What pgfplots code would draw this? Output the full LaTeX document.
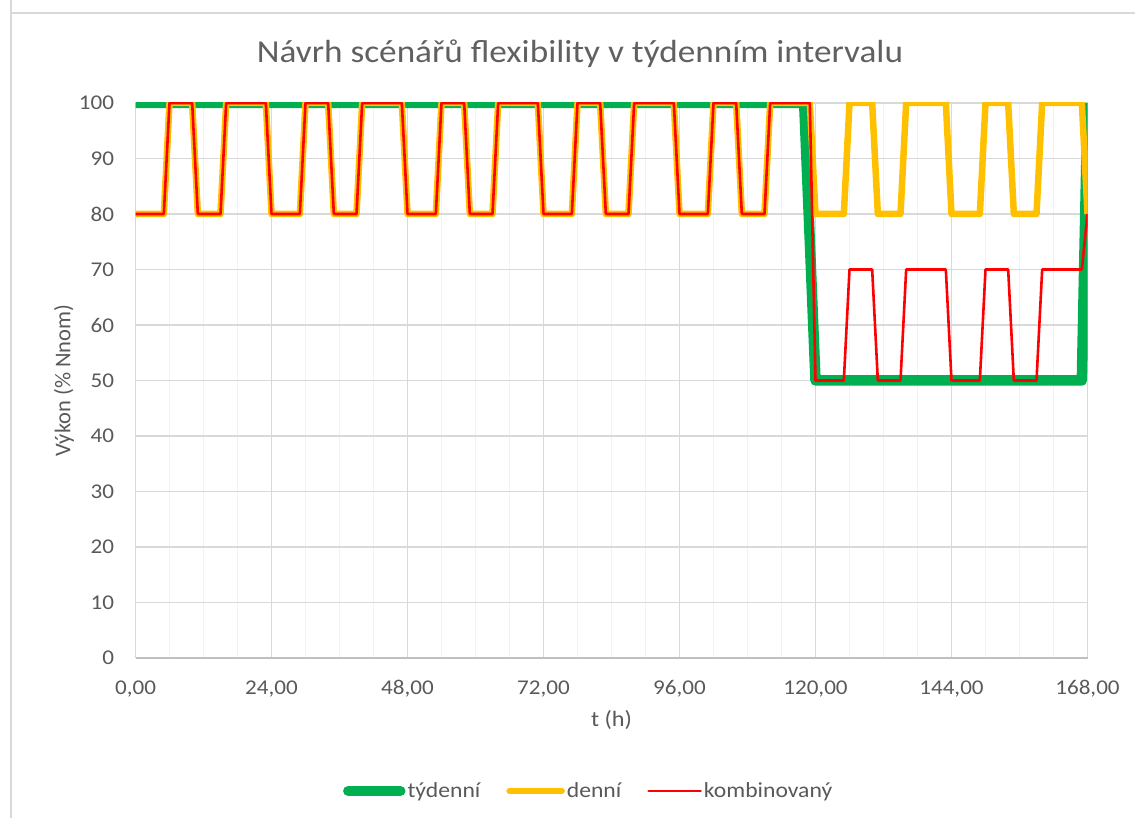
\documentclass[border=0pt]{standalone}
\usepackage{pgfplots}
\pgfplotsset{compat=1.18}
\usepackage{fontspec}
\setmainfont{Carlito}
\newfontfamily\wide{Carlito}[FakeStretch=1.1]
\newfontfamily\titlefont{Carlito}[FakeStretch=1.1]
\definecolor{tg}{HTML}{595959}
\definecolor{tgl}{HTML}{606060}
\definecolor{gmaj}{HTML}{D9D9D9}
\definecolor{gmin}{HTML}{F2F2F2}
\definecolor{axl}{HTML}{BFBFBF}
\definecolor{cgreen}{HTML}{00B050}
\definecolor{cyellow}{HTML}{FFC000}
\definecolor{cred}{HTML}{FF0000}
\begin{document}
\begin{tikzpicture}[x=1pt,y=1pt]
\useasboundingbox (0,0) rectangle (1135,818);
\draw[gmaj, line width=1.5pt] (11,818) -- (11,805) -- (1135,805);
\draw[gmaj, line width=1.5pt] (11,805) -- (11,0);
\node[font=\titlefont\fontsize{32pt}{36pt}\selectfont, text=tgl, anchor=base] at (580,755) {Návrh scénářů flexibility v týdenním intervalu};
\begin{axis}[
  at={(135.5pt,160pt)}, anchor=south west,
  scale only axis, width=952pt, height=555pt,
  xmin=0, xmax=168, ymin=0, ymax=100,
  xtick={0,24,...,168},
  minor xtick={6,12,...,162},
  ytick={0,10,...,100},
  grid=both,
  major grid style={color=gmaj, line width=1.4pt},
  minor grid style={color=gmin, line width=1.4pt},
  axis x line*=bottom, axis y line*=left,
  x axis line style={-, color=axl, line width=1.4pt},
  y axis line style={draw=none},
  major tick length=0pt, minor tick length=0pt,
  tick style={draw=none},
  xticklabel style={font=\wide\fontsize{21pt}{24pt}\selectfont, text=tg, yshift=-19pt},
  yticklabel style={font=\wide\fontsize{21pt}{24pt}\selectfont, text=tg, xshift=-18pt},
  x tick label style={/pgf/number format/.cd, fixed, fixed zerofill, precision=2, use comma, assume math mode=true},
  y tick label style={/pgf/number format/.cd, assume math mode=true},
  xlabel={t (h)},
  ylabel={Výkon (\% Nnom)},
  xlabel style={font=\wide\fontsize{22pt}{26pt}\selectfont, text=tg, yshift=-6pt},
  ylabel style={font=\fontsize{22.5pt}{26pt}\selectfont, text=tg, yshift=-2pt},
  legend columns=3,
  legend style={draw=none, fill=none, at={(0.476,-0.2396)}, anchor=center,
    font=\wide\fontsize{21.5pt}{24pt}\selectfont, text=tg,
    /tikz/every even column/.append style={column sep=24pt},
    inner sep=0pt},
  legend image code/.code={\draw[#1, line cap=round] (0pt,0pt) -- (52pt,0pt);},
  every axis plot/.append style={line join=round},
]
\addplot[cgreen, line width=10.5pt] coordinates {
(0,100)(118,100)(120,50)(167,50)(168,100)};
\addlegendentry{týdenní}
\addplot[cyellow, line width=6.5pt] coordinates {
(0,80)(5,80)(6,100)(10,100)(11,80)(15,80)(16,100)(23,100)
(24,80)(29,80)(30,100)(34,100)(35,80)(39,80)(40,100)(47,100)
(48,80)(53,80)(54,100)(58,100)(59,80)(63,80)(64,100)(71,100)
(72,80)(77,80)(78,100)(82,100)(83,80)(87,80)(88,100)(95,100)
(96,80)(101,80)(102,100)(106,100)(107,80)(111,80)(112,100)(119,100)
(120,80)(125,80)(126,100)(130,100)(131,80)(135,80)(136,100)(143,100)
(144,80)(149,80)(150,100)(154,100)(155,80)(159,80)(160,100)(167,100)
(168,80)};
\addlegendentry{denní}
\addplot[cred, line width=2.6pt] coordinates {
(0,80)(5,80)(6,100)(10,100)(11,80)(15,80)(16,100)(23,100)
(24,80)(29,80)(30,100)(34,100)(35,80)(39,80)(40,100)(47,100)
(48,80)(53,80)(54,100)(58,100)(59,80)(63,80)(64,100)(71,100)
(72,80)(77,80)(78,100)(82,100)(83,80)(87,80)(88,100)(95,100)
(96,80)(101,80)(102,100)(106,100)(107,80)(111,80)(112,100)(119,100)
(120,50)(125,50)(126,70)(130,70)(131,50)(135,50)(136,70)(143,70)
(144,50)(149,50)(150,70)(154,70)(155,50)(159,50)(160,70)(167,70)
(168,80)};
\addlegendentry{kombinovaný}
\end{axis}
\end{tikzpicture}
\end{document}
